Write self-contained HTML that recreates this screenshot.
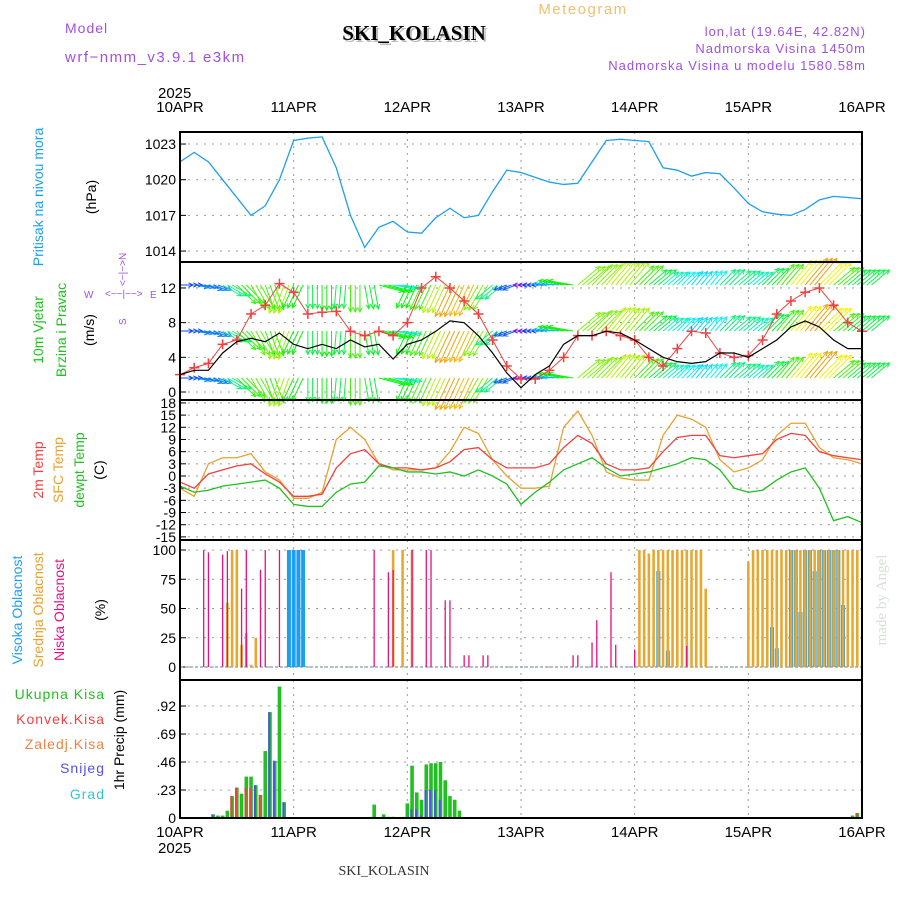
<!DOCTYPE html>
<html><head><meta charset="utf-8"><style>
body{margin:0;background:#fff;}
svg{display:block;font-family:"Liberation Sans",sans-serif;}
</style></head><body>
<svg id="chart" width="900" height="900" viewBox="0 0 900 900">
<text x="65" y="33" fill="#a050e0" font-size="14" letter-spacing="1">Model</text>
<text x="65" y="62" fill="#a050e0" font-size="15" letter-spacing="1.5">wrf−nmm_v3.9.1  e3km</text>
<text x="416" y="42" fill="#bbb" font-size="21" font-weight="bold" font-family="Liberation Serif,serif" text-anchor="middle">SKI_KOLASIN</text>
<text x="414" y="40" fill="#000" font-size="21" font-weight="bold" font-family="Liberation Serif,serif" text-anchor="middle">SKI_KOLASIN</text>
<text x="583" y="14" fill="#f0c070" font-size="15" letter-spacing="1.5" text-anchor="middle">Meteogram</text>
<text x="866" y="36" fill="#a050e0" font-size="13" letter-spacing="1" text-anchor="end">lon,lat (19.64E, 42.82N)</text>
<text x="866" y="53" fill="#a050e0" font-size="13" letter-spacing="1" text-anchor="end">Nadmorska Visina 1450m</text>
<text x="866" y="70" fill="#a050e0" font-size="13" letter-spacing="1" text-anchor="end">Nadmorska Visina u modelu 1580.58m</text>
<text x="158" y="98" font-size="15">2025</text>
<text x="158" y="853" font-size="15">2025</text>
<text x="384" y="875" font-size="14" font-family="Liberation Serif,serif" text-anchor="middle" fill="#333">SKI_KOLASIN</text>
<text transform="translate(886,600) rotate(-90)" font-size="15" font-family="Liberation Serif,serif" fill="#d8e0d8" text-anchor="middle">made by Angel</text>

<g font-size="14">
<text transform="translate(43,197) rotate(-90)" fill="#1e9ef0" text-anchor="middle">Pritisak na nivou mora</text>
<text transform="translate(96,197) rotate(-90)" fill="#000" text-anchor="middle">(hPa)</text>
<text transform="translate(43,330) rotate(-90)" fill="#20c020" text-anchor="middle">10m Vjetar</text>
<text transform="translate(66,330) rotate(-90)" fill="#20c020" text-anchor="middle">Brzina i Pravac</text>
<text transform="translate(94,330) rotate(-90)" fill="#000" text-anchor="middle">(m/s)</text>
<text transform="translate(43,470) rotate(-90)" fill="#f04040" text-anchor="middle">2m Temp</text>
<text transform="translate(63,470) rotate(-90)" fill="#e8a030" text-anchor="middle">SFC Temp</text>
<text transform="translate(84,470) rotate(-90)" fill="#20c020" text-anchor="middle">dewpt Temp</text>
<text transform="translate(104,470) rotate(-90)" fill="#000" text-anchor="middle">(C)</text>
<text transform="translate(22,610) rotate(-90)" fill="#1e9ef0" text-anchor="middle">Visoka Oblacnost</text>
<text transform="translate(43,610) rotate(-90)" fill="#e8a030" text-anchor="middle">Srednja Oblacnost</text>
<text transform="translate(64,610) rotate(-90)" fill="#e81080" text-anchor="middle">Niska Oblacnost</text>
<text transform="translate(105,610) rotate(-90)" fill="#000" text-anchor="middle">(%)</text>
<text x="105" y="699" fill="#20c020" text-anchor="end" letter-spacing="1">Ukupna  Kisa</text>
<text x="105" y="724" fill="#f04040" text-anchor="end" letter-spacing="1">Konvek.Kisa</text>
<text x="105" y="749" fill="#f08040" text-anchor="end" letter-spacing="1">Zaledj.Kisa</text>
<text x="105" y="773" fill="#5050f0" text-anchor="end" letter-spacing="1">Snijeg</text>
<text x="105" y="799" fill="#30c8d0" text-anchor="end" letter-spacing="1">Grad</text>
<text transform="translate(124,740) rotate(-90)" fill="#000" text-anchor="middle">1hr Precip (mm)</text>
<g fill="#a050e0" font-size="10">
<text x="84" y="298">W</text><text x="150" y="298">E</text>
<text x="105" y="297">&lt;−−|−−&gt;</text>
<text transform="translate(126,286) rotate(-90)">&lt;−|−&gt;N</text>
<text transform="translate(126,325) rotate(-90)">S</text>
</g>
</g>
<g id="plots"></g>
</svg>
<script>
const days=['10APR','11APR','12APR','13APR','14APR','15APR','16APR'];
const pressure=[1021.5,1022.3,1021.5,1020,1018.5,1017,1017.8,1020,1023.3,1023.5,1023.6,1021,1017,1014.3,1016,1016.5,1015.6,1015.5,1016.8,1017.6,1016.8,1017,1019,1020.8,1020.6,1020.2,1019.8,1019.6,1019.7,1021.5,1023.3,1023.4,1023.3,1023.2,1021,1020.8,1020.3,1020.6,1020.5,1019.3,1018,1017.3,1017.1,1017,1017.5,1018.3,1018.6,1018.5,1018.4];
const windSpeed=[2,2.5,2.5,4.5,5.8,6.2,5.8,6.8,5.5,5,5.5,5,6,5.2,5.5,3.8,5.5,6,7,8.2,8,6.5,4.5,2.2,0.5,2,3,5.5,6.5,6.5,7,6.8,6,5,4,3.5,3.3,3.5,4.5,4.5,4,5,6,7.5,8.2,7.5,6,5,5];
const windGust=[2,2.8,3.3,5.5,6,9,10,12.5,11.5,9,9.2,9.3,7,6.5,7,6.5,8,12,13.3,12,10.5,9,6,3,1.5,1.5,2.5,4,6.5,6.5,7,6.5,6,4,3,5,7,6.8,4.5,4,4.2,6,9,10.5,11.5,12,10,8,7];
const windDir=[0,10,20,30,45,60,70,110,115,90,90,95,90,80,15,10,115,115,115,115,115,120,140,160,180,180,185,190,-40,-45,-50,-50,-45,-40,-40,-45,-50,-50,-45,-40,-40,-45,-50,-50,-50,-45,-40,-40,-40];
const temp2m=[-1.5,-3,0.5,1.5,2.5,3,0.5,-1.5,-5,-5,-4.5,2,5.5,6.5,3,2,2,1.5,2,3.5,6.5,7,4,2,2,2,3,7,10,8,3,1.5,1.5,2,6,9.5,10,10,5,4.5,5,5.5,9,10.5,10,6,5,4.5,4];
const tempSfc=[-3,-5,3,4.5,4.5,5.5,1,-1,-5.5,-5.5,-4,9,12,9,3,1.5,1.5,1.5,2,6,12,10.5,4,0,-3,-3,-2.5,12,16,10,1,-0.5,-1,-1,10,15,14,12,4,1,2,4,10,13,13,7,4.5,4,3];
const tempDew=[-2.5,-4,-3.5,-2.5,-2,-1.5,-1,-3,-7,-7.5,-7.5,-4,-2,-1.5,2.5,2,1,1,0.5,1,0,1.5,0,-2,-7,-4,-1.5,1.5,3,4.5,2,0,0.5,1,2,3,4.5,4,1.5,-3,-4,-3.5,-1,1,2,-3,-11,-10,-11.5];
const lowHours=[5,6,9,10,13,14,17,18,21,41,44,45,49,52,53,56,57,60,61,64,65,83,84,87,88,91,92,96,107];
const lowVals=[100,98,96,99,67,100,83,100,100,100,81,83,100,100,100,57,57,10,10,10,10,10,10,21,40,81,19,15,18];
const midHours=[10,11,12,13,14,15,16,45,47,49,97,98,99,100,101,102,103,104,105,106,107,108,109,110,111,120,121,122,123,124,125,126,127,128,129,130,131,132,133,134,135,136,137,138,139,140,141,142,143];
const midVals=[55,100,100,19,29,2,25,100,100,100,100,100,97,100,100,100,100,100,100,100,100,100,100,100,67,90,100,100,100,100,100,100,100,100,100,100,100,100,100,100,100,100,100,100,100,100,100,100,100];
const highHours=[23,24,25,26,101,103,125,126,129,130,131,132,133,134,135,136,137,138,139,140];
const highVals=[100,100,100,100,82,14,34,16,100,100,47,100,100,82,100,100,100,100,100,53];
const precipHours=[7,8,9,10,11,12,13,14,15,16,17,18,19,20,21,22,41,43,44,45,48,49,50,51,52,53,54,55,56,57,58,59,142,143];
const precipTotal=[0.03,0.02,0.02,0.06,0.18,0.25,0.2,0.34,0.34,0.27,0.19,0.55,0.87,0.47,1.08,0.13,0.11,0.03,0.01,0.01,0.12,0.43,0.21,0.15,0.44,0.45,0.45,0.46,0.31,0.18,0.15,0.06,0.02,0.04];
const precipSnow=[0.03,0,0,0,0,0,0,0,0,0.27,0,0,0.87,0.47,0,0.13,0,0,0,0,0,0.07,0.07,0.02,0.23,0.23,0.23,0.15,0,0,0,0,0,0];
const precipConv=[0,0,0,0,0.18,0.25,0,0.25,0.25,0.2,0.19,0,0,0,0,0,0,0,0,0,0,0,0,0,0,0,0,0,0,0,0,0,0,0.04];
const pTicks=[1023,1020,1017,1014];
const wTicks=[0,4,8,12];
const tTicks=[18,15,12,9,6,3,0,-3,-6,-9,-12,-15];
const cTicks=[0,25,50,75,100];
const rTicks=[0,0.23,0.46,0.69,0.92];

const NS='http://www.w3.org/2000/svg';
const G=document.getElementById('plots');
const X0=180,X1=862,HP=(X1-X0)/144;
const xh=h=>X0+h*HP, xi=i=>X0+i*3*HP;
const yP=p=>179.7-(p-1020)*11.89;
const yW=v=>392-v*8.67;
const yT=t=>476-t*4.06;
const yC=c=>667-c*1.17;
const yR=r=>818-r*121.7;
function el(tag,attrs,parent){const e=document.createElementNS(NS,tag);for(const k in attrs)e.setAttribute(k,attrs[k]);(parent||G).appendChild(e);return e;}
const panels=[[132,262,'pressure'],[262,400,'wind'],[400,540,'temperature'],[540,680,'cloud'],[680,818,'precip']];
function hgrid(ticks,fy,name,fmt,top,bot){
  ticks.forEach(t=>{const y=fy(t);
    if(y>top+2&&y<bot-2){const l=el('line',{x1:X0,x2:X1,y1:y,y2:y,stroke:'#999','stroke-dasharray':'2,6'});
    
    }
    const tk=el('line',{x1:X0,x2:X0+6,y1:y,y2:y,stroke:'#000'});
    
    
    const tx=el('text',{x:X0-4,y:y+5,'font-size':14,'text-anchor':'end'});tx.textContent=fmt(t);
    
    
  });
}
panels.forEach(([t,b,n])=>{
  for(let d=1;d<6;d++){const x=X0+d*24*HP;const l=el('line',{x1:x,x2:x,y1:t,y2:b,stroke:'#999','stroke-dasharray':'2,5'});
  
  }
});
hgrid(pTicks,yP,'pressure-y',v=>v,132,262);
hgrid(wTicks,yW,'wind-y',v=>v,262,400);
hgrid(tTicks,yT,'temp-y',v=>v,400,540);
hgrid(cTicks,yC,'cloud-y',v=>v,540,680);
hgrid(rTicks,yR,'precip-y',v=>v===0?'0':v.toFixed(2).replace(/^0/,''),680,818);
days.forEach((d,i)=>{const x=X0+i*24*HP;
  const a=el('text',{x:x,y:112,'font-size':15,'text-anchor':'middle'});a.textContent=d;
  
  
  const b=el('text',{x:x,y:837,'font-size':15,'text-anchor':'middle'});b.textContent=d;
  
  
});
const pl=el('polyline',{points:pressure.map((p,i)=>xi(i)+','+yP(p)).join(' '),fill:'none',stroke:'#1e9ef0','stroke-width':1.3});


function spdColor(v){const h=Math.max(0,Math.min(280,285-v*30));return 'hsl('+h+',90%,50%)';}
const rows=[285,331,378];
windDir.forEach((dir,i)=>{
  const v=windSpeed[i],len=6+v*3.5,c=spdColor(v),r=dir*Math.PI/180;
  for(let k=0;k<3;k++){
    rows.forEach(ry=>{
      const x=xi(i)+k*HP,x2=x+len*Math.cos(r),y2=ry+len*Math.sin(r);
      const a=el('line',{x1:x,y1:ry,x2:x2,y2:y2,stroke:c,'stroke-width':1});
      
      
      const h1=r+Math.PI-0.45,h2=r+Math.PI+0.45;
      const hd=el('polyline',{points:(x2+5*Math.cos(h1))+','+(y2+5*Math.sin(h1))+' '+x2+','+y2+' '+(x2+5*Math.cos(h2))+','+(y2+5*Math.sin(h2)),fill:'none',stroke:c});
      
      
    });
  }
});
const gl=el('polyline',{points:windGust.map((g,i)=>xi(i)+','+yW(g)).join(' '),fill:'none',stroke:'#f04040','stroke-width':1});


windGust.forEach((g,i)=>{const x=xi(i),y=yW(g);
  const m=el('path',{d:`M${x-5},${y}H${x+5}M${x},${y-5}V${y+5}`,stroke:'#f04040','stroke-width':1.5});
  
  });
const wl=el('polyline',{points:windSpeed.map((v,i)=>xi(i)+','+yW(v)).join(' '),fill:'none',stroke:'#000','stroke-width':1.2});


[[tempSfc,'#e8a030','sfc-temp-line'],[temp2m,'#f04040','temp-2m-line'],[tempDew,'#20c020','dewpoint-line']].forEach(([arr,c,n])=>{
  const l=el('polyline',{points:arr.map((t,i)=>xi(i)+','+yT(t)).join(' '),fill:'none',stroke:c,'stroke-width':1.3});
  
  
});
const base=el('line',{x1:X0,x2:X1,y1:yC(0),y2:yC(0),stroke:'#9ab','stroke-width':1.5,'stroke-dasharray':'3,2'});


function cbars(hours,vals,color,w,name){hours.forEach((h,i)=>{const x=xh(h);
  const r=el('rect',{x:x-w/2,y:yC(vals[i]),width:w,height:yC(0)-yC(vals[i]),fill:color});
  
  });}
cbars(highHours,highVals,'#1e9ef0',4,'high-cloud-bar');
cbars(midHours,midVals,'#e8a830',2.6,'mid-cloud-bar');
cbars(lowHours,lowVals,'#e81080',1.3,'low-cloud-bar');
const pb=el('line',{x1:X0,x2:X1,y1:yR(0),y2:yR(0),stroke:'#000','stroke-width':2,'stroke-dasharray':'3,1'});


precipHours.forEach((h,i)=>{const x=xh(h);
  const t=el('rect',{x:x-1.8,y:yR(precipTotal[i]),width:3.6,height:yR(0)-yR(precipTotal[i]),fill:'#20c020'});
  
  
  if(precipConv[i]>0){const c=el('rect',{x:x-1.8,y:yR(precipConv[i]),width:2,height:yR(0)-yR(precipConv[i]),fill:'#f04040'});
    
    }
  if(precipSnow[i]>0){const s=el('rect',{x:x-1.8,y:yR(precipSnow[i]),width:2,height:yR(0)-yR(precipSnow[i]),fill:'#5050f0'});
    
    }
});
panels.forEach(([t,b,n])=>{const r=el('rect',{x:X0,y:t,width:X1-X0,height:b-t,fill:'none',stroke:'#000','stroke-width':2});
  
  });
</script>
</body></html>
